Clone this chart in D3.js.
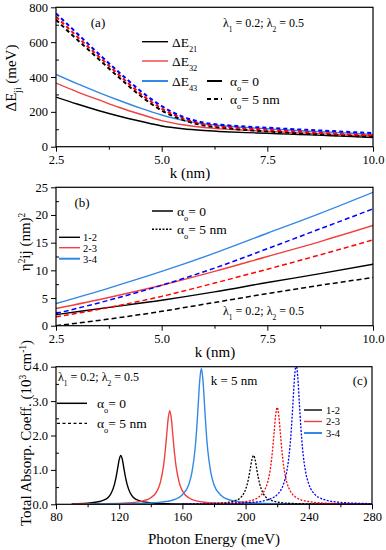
<!DOCTYPE html>
<html>
<head>
<meta charset="utf-8">
<script src="https://cdnjs.cloudflare.com/ajax/libs/d3/7.8.5/d3.min.js"></script>
<style>
body { margin: 0; background: #fff; }
svg, svg text { font-family: "Liberation Serif", "Times New Roman", Times, "DejaVu Serif", serif; }
</style>
</head>
<body>
<svg id="chart" width="386" height="550"></svg>
<script>
var FONT = "'Liberation Serif', 'Times New Roman', Times, 'DejaVu Serif', serif";

// ---- panel (a): transition energies vs k
var kA = [2.5, 3, 3.5, 4, 4.5, 5, 5.5, 6, 6.5, 7, 7.5, 8, 8.5, 9, 9.5, 10];
var dE21_0 = [285, 245, 208, 175, 146, 119, 103, 93, 86, 81, 77, 72, 68, 63, 58, 53];
var dE32_0 = [365, 315, 270, 225, 186, 150, 126, 110, 101, 94, 88, 82, 77, 72, 66, 61];
var dE43_0 = [415, 362, 312, 265, 221, 182, 151, 131, 119, 110, 103, 96, 89, 83, 77, 70];
var dE21_5 = [728, 615, 505, 395, 292, 208, 154, 122, 107, 96, 88, 80, 73, 67, 62, 57];
var dE32_5 = [746, 632, 520, 410, 304, 219, 163, 129, 115, 105, 97, 90, 83, 76, 70, 65];
var dE43_5 = [765, 650, 535, 425, 320, 233, 172, 138, 124, 115, 109, 102, 96, 90, 84, 78];

// ---- panel (b): dipole matrix elements vs k
var kB = [2.5, 3.75, 5, 6.25, 7.5, 8.75, 10];
var eta12_0 = [2.0, 3.3, 4.6, 6.1, 7.8, 9.4, 11.1];
var eta23_0 = [3.1, 5.1, 7.3, 9.8, 12.5, 15.2, 18.1];
var eta34_0 = [4.0, 6.8, 9.8, 13.1, 16.7, 20.3, 24.1];
var eta12_5 = [0.0, 1.2, 2.6, 4.2, 5.8, 7.3, 8.7];
var eta23_5 = [1.6, 3.3, 5.3, 7.7, 10.2, 12.8, 15.5];
var eta34_5 = [2.2, 4.6, 7.3, 10.4, 13.9, 17.5, 21.1];

// ---- panel (c): absorption spectra, [energy meV, coeff]
var abs12_0 = [[90,0.02],[100,0.035],[105,0.06],[109,0.1],[113,0.2],[115,0.33],[117,0.58],[118,0.78],[119,1.04],[120,1.3],[121,1.42],[122,1.3],[123,1.04],[124,0.78],[125,0.58],[127,0.33],[129,0.2],[133,0.1],[137,0.058],[141,0.038],[150,0.018],[170,0.0065],[200,0.0025],[240,0.001],[280,0.0005]];
var abs23_0 = [[90,0.008],[110,0.017],[125,0.04],[135,0.1],[140,0.19],[144,0.39],[146,0.63],[148,1.1],[149,1.49],[150,1.99],[151,2.49],[152,2.72],[153,2.49],[154,1.99],[155,1.49],[156,1.1],[158,0.63],[160,0.39],[164,0.19],[169,0.1],[180,0.036],[200,0.013],[240,0.004],[280,0.002]];
var abs34_0 = [[100,0.008],[130,0.024],[145,0.056],[155,0.14],[160,0.28],[164,0.57],[166,0.92],[168,1.6],[169,2.16],[170,2.89],[171,3.62],[172,3.95],[173,3.62],[174,2.89],[175,2.16],[176,1.6],[178,0.92],[180,0.57],[184,0.28],[189,0.14],[200,0.054],[220,0.019],[250,0.007],[280,0.0037]];
var abs12_5 = [[160,0.008],[180,0.024],[189,0.058],[193,0.1],[197,0.2],[199,0.33],[201,0.58],[202,0.78],[203,1.04],[204,1.3],[205,1.42],[206,1.3],[207,1.04],[208,0.78],[209,0.58],[211,0.33],[213,0.2],[217,0.1],[221,0.058],[230,0.024],[250,0.008],[280,0.0027]];
var abs23_5 = [[160,0.008],[185,0.024],[200,0.075],[204,0.115],[208,0.2],[212,0.41],[214,0.65],[216,1.14],[217,1.55],[218,2.06],[219,2.58],[220,2.82],[221,2.58],[222,2.06],[223,1.55],[224,1.14],[226,0.65],[228,0.41],[232,0.2],[236,0.115],[240,0.075],[255,0.025],[280,0.0085]];
var abs34_5 = [[160,0.009],[190,0.025],[205,0.06],[212,0.107],[216,0.166],[220,0.28],[224,0.59],[226,0.94],[228,1.64],[229,2.22],[230,2.96],[231,3.71],[232,4.05],[233,3.71],[234,2.96],[235,2.22],[236,1.64],[238,0.94],[240,0.59],[244,0.28],[248,0.166],[252,0.107],[260,0.056],[280,0.019]];

var black = "#000", red0 = "#f04040", blue0 = "#3388e6", red5 = "#ff0000", blue5 = "#0000ff";

var svg = d3.select("#chart");
svg.append("rect").attr("width", 386).attr("height", 550).attr("fill", "#fff");

function makePanel(box, xDom, yDom, xMaj, xMin, yMaj, yMin, xFmt, id) {
    var x = d3.scaleLinear().domain(xDom).range([box.x0, box.x1]);
    var y = d3.scaleLinear().domain(yDom).range([box.y1, box.y0]);
    var g = svg.append("g");

    g.append("clipPath").attr("id", id)
      .append("rect")
        .attr("x", box.x0).attr("y", box.y0)
        .attr("width", box.x1 - box.x0).attr("height", box.y1 - box.y0);

    // minor ticks
    g.append("g")
        .attr("transform", "translate(0," + box.y1 + ")")
        .call(d3.axisBottom(x).tickValues(xMin).tickSize(3).tickFormat(""))
        .call(function(s) { s.select(".domain").remove(); });
    g.append("g")
        .attr("transform", "translate(" + box.x0 + ",0)")
        .call(d3.axisRight(y).tickValues(yMin).tickSize(3).tickFormat(""))
        .call(function(s) { s.select(".domain").remove(); });

    // major ticks
    var xa = g.append("g")
        .attr("transform", "translate(0," + box.y1 + ")")
        .call(d3.axisBottom(x).tickValues(xMaj).tickSize(5).tickPadding(3).tickFormat(xFmt));
    var ya = g.append("g")
        .attr("transform", "translate(" + box.x0 + ",0)")
        .call(d3.axisLeft(y).tickValues(yMaj).tickSize(5).tickPadding(3));
    [xa, ya].forEach(function(a) {
        a.attr("font-family", FONT);
        a.select(".domain").remove();
        a.selectAll("text").attr("font-size", 12.5).attr("fill", "#000")
            .attr("font-family", FONT);
    });
    g.selectAll("line").attr("stroke", "#000").attr("stroke-width", 1);

    var plot = g.append("g").attr("clip-path", "url(#" + id + ")");

    g.append("rect")
        .attr("x", box.x0).attr("y", box.y0)
        .attr("width", box.x1 - box.x0).attr("height", box.y1 - box.y0)
        .attr("fill", "none").attr("stroke", "#000").attr("stroke-width", 1.2);

    return { x: x, y: y, g: g, plot: plot };
}

function addText(g, x, y, size, parts, anchor) {
    var t = g.append("text").attr("x", x).attr("y", y)
        .attr("font-family", FONT)
        .attr("font-size", size).attr("text-anchor", anchor || "start");
    parts.forEach(function(p) {
        var s = t.append("tspan").text(p.t);
        if (p.sub) s.attr("font-size", size * 0.62).attr("baseline-shift", "sub");
        if (p.sup) s.attr("font-size", size * 0.62).attr("baseline-shift", "super");
    });
    return t;
}

function legendLine(g, x1, x2, y, color, w, dash) {
    g.append("line").attr("x1", x1).attr("x2", x2).attr("y1", y).attr("y2", y)
        .attr("stroke", color).attr("stroke-width", w)
        .attr("stroke-dasharray", dash || null);
}

var fmt1 = d3.format(".1f");

// ================= panel (a)
var A = makePanel({x0: 56, x1: 373, y0: 7.3, y1: 146.7}, [2.5, 10], [0, 800],
    [2.5, 5, 7.5, 10], [3.75, 6.25, 8.75], [0, 200, 400, 600, 800], [100, 300, 500, 700], fmt1, "clipA");

var lineA = d3.line()
    .x(function(d) { return A.x(d[0]); })
    .y(function(d) { return A.y(d[1]); })
    .curve(d3.curveMonotoneX);

[[dE21_0, black], [dE32_0, red0], [dE43_0, blue0]].forEach(function(s) {
    A.plot.append("path").datum(d3.zip(kA, s[0])).attr("d", lineA)
        .attr("fill", "none").attr("stroke", s[1]).attr("stroke-width", 1.4);
});
[[dE21_5, black], [dE32_5, red5], [dE43_5, blue5]].forEach(function(s) {
    A.plot.append("path").datum(d3.zip(kA, s[0])).attr("d", lineA)
        .attr("fill", "none").attr("stroke", s[1]).attr("stroke-width", 2)
        .attr("stroke-dasharray", "4,3");
});

addText(A.g, 98, 27, 13, [{t: "(a)"}], "middle");
addText(A.g, 223, 27, 12, [{t: "\u03bb"}, {t: "1", sub: 1}, {t: " = 0.2; \u03bb"}, {t: "2", sub: 1}, {t: " = 0.5"}]);
legendLine(A.g, 142, 168, 41.7, black, 1.4);
legendLine(A.g, 142, 168, 61, red0, 1.4);
legendLine(A.g, 142, 168, 81, blue0, 2);
addText(A.g, 172, 46.5, 13.5, [{t: "\u0394E"}, {t: "21", sub: 1}]);
addText(A.g, 172, 66, 13.5, [{t: "\u0394E"}, {t: "32", sub: 1}]);
addText(A.g, 172, 86, 13.5, [{t: "\u0394E"}, {t: "43", sub: 1}]);
legendLine(A.g, 207, 222, 81, black, 2);
legendLine(A.g, 207, 222, 99, black, 2, "4,3");
addText(A.g, 230, 85.5, 13.5, [{t: "\u03b1"}, {t: "o", sub: 1}, {t: "= 0"}]);
addText(A.g, 230, 103.5, 13.5, [{t: "\u03b1"}, {t: "o", sub: 1}, {t: "= 5 nm"}]);

addText(svg, 190, 178, 15, [{t: "k (nm)"}], "middle");
addText(svg, 0, 0, 15, [{t: "\u0394E"}, {t: "ji", sub: 1}, {t: " (meV)"}], "middle")
    .attr("transform", "translate(16,78) rotate(-90)");

// ================= panel (b)
var B = makePanel({x0: 56, x1: 373, y0: 187.3, y1: 325.7}, [2.5, 10], [0, 25],
    [2.5, 5, 7.5, 10], [3.75, 6.25, 8.75], [0, 5, 10, 15, 20, 25], [2.5, 7.5, 12.5, 17.5, 22.5], fmt1, "clipB");

var lineB = d3.line()
    .x(function(d) { return B.x(d[0]); })
    .y(function(d) { return B.y(d[1]); })
    .curve(d3.curveMonotoneX);

[[eta12_0, black], [eta23_0, red0], [eta34_0, blue0]].forEach(function(s) {
    B.plot.append("path").datum(d3.zip(kB, s[0])).attr("d", lineB)
        .attr("fill", "none").attr("stroke", s[1]).attr("stroke-width", 1.4);
});
[[eta12_5, black], [eta23_5, red5], [eta34_5, blue5]].forEach(function(s) {
    B.plot.append("path").datum(d3.zip(kB, s[0])).attr("d", lineB)
        .attr("fill", "none").attr("stroke", s[1]).attr("stroke-width", 1.5)
        .attr("stroke-dasharray", "5,3");
});

addText(B.g, 82, 207, 13, [{t: "(b)"}], "middle");
legendLine(B.g, 152, 173, 211, black, 1.5);
legendLine(B.g, 152, 173, 229.3, black, 1.5, "2,1.5");
addText(B.g, 177, 215.5, 13.5, [{t: "\u03b1"}, {t: "o", sub: 1}, {t: "= 0"}]);
addText(B.g, 177, 233.8, 13.5, [{t: "\u03b1"}, {t: "o", sub: 1}, {t: "= 5 nm"}]);
legendLine(B.g, 59, 80, 237.3, black, 1.4);
legendLine(B.g, 59, 80, 247.7, red0, 1.4);
legendLine(B.g, 59, 80, 258.7, blue0, 2);
addText(B.g, 83, 241, 10.5, [{t: "1-2"}]);
addText(B.g, 83, 251.5, 10.5, [{t: "2-3"}]);
addText(B.g, 83, 262.5, 10.5, [{t: "3-4"}]);
addText(B.g, 223, 315, 12, [{t: "\u03bb"}, {t: "1", sub: 1}, {t: " = 0.2; \u03bb"}, {t: "2", sub: 1}, {t: " = 0.5"}]);

addText(svg, 215, 357, 15, [{t: "k (nm)"}], "middle");
addText(svg, 0, 0, 15, [{t: "\u03b7"}, {t: "2", sup: 1}, {t: "ij"}, {t: " (nm)"}, {t: "2", sup: 1}], "middle")
    .attr("transform", "translate(30,242) rotate(-90)");

// ================= panel (c)
var C = makePanel({x0: 56, x1: 372, y0: 366.7, y1: 504.3}, [80, 280], [0, 4],
    [80, 120, 160, 200, 240, 280], [100, 140, 180, 220, 260], [0, 1, 2, 3, 4], [0.5, 1.5, 2.5, 3.5], d3.format("d"), "clipC");

var lineC = d3.line()
    .x(function(d) { return C.x(d[0]); })
    .y(function(d) { return C.y(d[1]); })
    .curve(d3.curveMonotoneX);

[[abs12_0, black], [abs23_0, red0], [abs34_0, blue0]].forEach(function(s) {
    C.plot.append("path").datum(s[0]).attr("d", lineC)
        .attr("fill", "none").attr("stroke", s[1]).attr("stroke-width", 1.4);
});
[[abs12_5, black], [abs23_5, red5], [abs34_5, blue5]].forEach(function(s) {
    C.plot.append("path").datum(s[0]).attr("d", lineC)
        .attr("fill", "none").attr("stroke", s[1]).attr("stroke-width", 1.3)
        .attr("stroke-dasharray", "2,1.5");
});

addText(C.g, 58, 381, 12, [{t: "\u03bb"}, {t: "1", sub: 1}, {t: " = 0.2; \u03bb"}, {t: "2", sub: 1}, {t: " = 0.5"}]);
addText(C.g, 234, 385, 13, [{t: "k = 5 nm"}], "middle");
addText(C.g, 360, 385, 13, [{t: "(c)"}], "middle");
legendLine(C.g, 57, 87, 403.3, black, 1.5);
legendLine(C.g, 57, 87, 423.3, black, 1.3, "3,2.5");
addText(C.g, 97, 408, 13.5, [{t: "\u03b1"}, {t: "o", sub: 1}, {t: "= 0"}]);
addText(C.g, 97, 428, 13.5, [{t: "\u03b1"}, {t: "o", sub: 1}, {t: "= 5 nm"}]);
legendLine(C.g, 304, 322, 410, black, 1.4);
legendLine(C.g, 304, 322, 421.5, red0, 1.4);
legendLine(C.g, 304, 322, 433, blue0, 2);
addText(C.g, 326, 413.5, 10.5, [{t: "1-2"}]);
addText(C.g, 326, 425, 10.5, [{t: "2-3"}]);
addText(C.g, 326, 436.5, 10.5, [{t: "3-4"}]);

addText(svg, 214, 544, 15, [{t: "Photon Energy (meV)"}], "middle");
addText(svg, 0, 0, 15, [{t: "Total Absorp. Coeff. (10"}, {t: "3", sup: 1}, {t: " cm"}, {t: "-1", sup: 1}, {t: ")"}], "middle")
    .attr("transform", "translate(31,433) rotate(-90)");
</script>
</body>
</html>
